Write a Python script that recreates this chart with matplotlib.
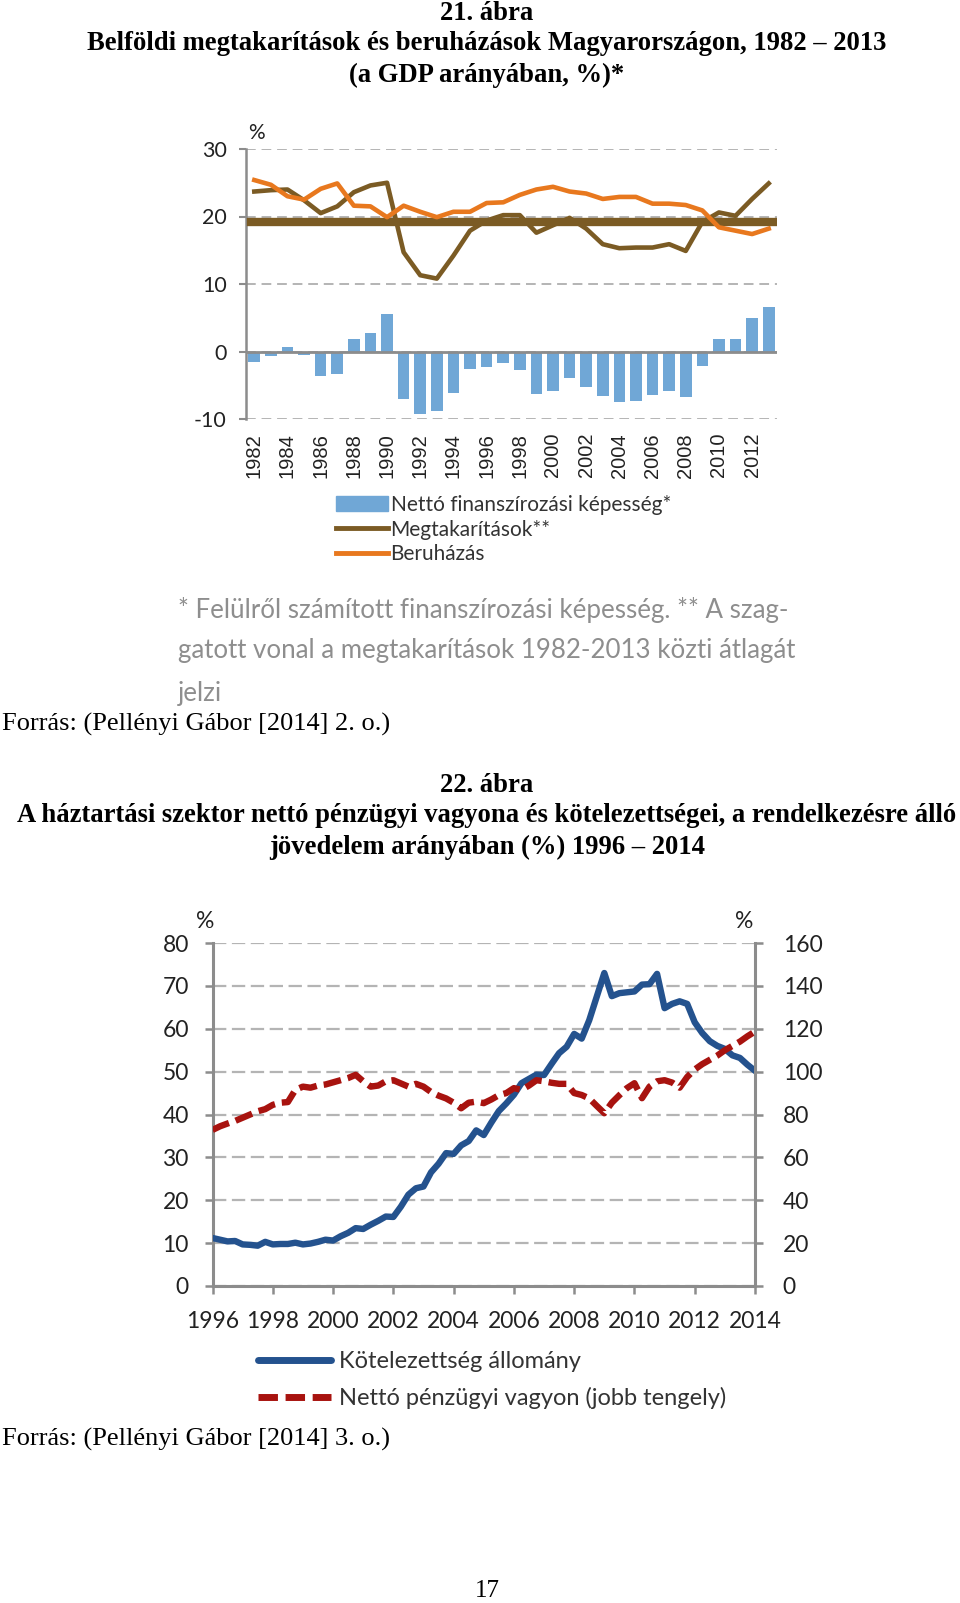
import numpy as np
import matplotlib.pyplot as plt
from matplotlib.patches import Patch
from matplotlib.lines import Line2D

plt.rcParams["axes.unicode_minus"] = False

# --- 21. ábra: yearly data, 1982-2013 (% of GDP)
years = np.arange(1982, 2014)
netto = [-1.5, -0.7, 0.7, -0.5, -3.6, -3.3, 1.8, 2.7, 5.5, -7.1,
         -9.2, -8.8, -6.2, -2.6, -2.3, -1.7, -2.8, -6.3, -5.8, -3.9,
         -5.2, -6.6, -7.5, -7.4, -6.4, -5.9, -6.7, -2.1, 1.8, 1.9,
         4.9, 6.6]
megtak = [23.7, 23.9, 24.0, 22.4, 20.5, 21.5, 23.6, 24.6, 25.0, 14.7,
          11.3, 10.8, 14.2, 17.9, 19.4, 20.2, 20.2, 17.6, 18.7, 19.8,
          18.2, 15.9, 15.3, 15.4, 15.4, 15.9, 14.9, 19.2, 20.6, 20.1,
          22.6, 24.9]
beruh = [25.4, 24.7, 23.0, 22.5, 24.1, 24.9, 21.6, 21.5, 19.9, 21.6,
         20.7, 19.9, 20.7, 20.7, 22.0, 22.1, 23.2, 24.0, 24.4, 23.7,
         23.4, 22.6, 22.9, 22.9, 21.9, 21.9, 21.7, 20.9, 18.4, 17.9,
         17.4, 18.2]
top_labels = ["Nettó finanszírozási képesség*", "Megtakarítások**", "Beruházás"]

# --- 22. ábra: quarterly data, 1996Q1 - 2014Q1 (% of disposable income)
kotelez = [11.2, 10.8, 10.4, 10.5, 9.7, 9.6, 9.4, 10.3, 9.7, 9.8,
           9.8, 10.1, 9.7, 9.9, 10.3, 10.8, 10.6, 11.6, 12.4, 13.5,
           13.3, 14.3, 15.2, 16.2, 16.1, 18.5, 21.3, 22.8, 23.2, 26.5,
           28.5, 31.0, 30.8, 32.8, 33.8, 36.3, 35.2, 38.1, 40.8, 42.6,
           44.6, 47.3, 48.3, 49.3, 49.2, 51.8, 54.3, 55.8, 58.8, 57.7,
           62.0, 67.5, 73.0, 67.6, 68.3, 68.5, 68.7, 70.3, 70.4, 72.8,
           64.8, 65.8, 66.4, 65.8, 61.5, 59.0, 57.1, 56.0, 55.3, 53.8,
           53.2, 51.6, 50.2]
vagyon = [72.8, 74.5, 75.8, 77.0, 78.5, 80.0, 81.5, 82.5, 84.5, 85.5,
          85.8, 91.5, 93.0, 92.5, 93.5, 94.0, 95.0, 96.0, 97.0, 98.5,
          95.5, 93.0, 93.5, 95.5, 96.0, 94.5, 93.0, 94.3, 93.0, 90.5,
          88.8, 87.5, 85.5, 82.9, 85.5, 86.0, 85.3, 87.0, 89.0, 90.0,
          92.3, 91.5, 93.5, 96.0, 95.5, 94.8, 94.3, 94.3, 90.0, 89.1,
          87.5, 84.0, 80.6, 85.5, 89.0, 92.3, 94.6, 87.6, 93.0, 95.5,
          96.0, 94.9, 92.5, 97.5, 101.0, 103.5, 105.5, 107.5, 110.0, 112.0,
          114.0, 116.5, 118.7]
quarters = 1996 + np.arange(len(kotelez)) / 4
bottom_labels = ["Kötelezettség állomány", "Nettó pénzügyi vagyon (jobb tengely)"]

W, H = 960, 1603
serif = "Liberation Serif"
sans = "Lato"
grid_c = "#b4b4b4"
axis_c = "#8c8c8c"
txt_c = "#222222"

fig = plt.figure(figsize=(W / 100, H / 100), dpi=100)


def fx(px):
    return px / W


def fy(py):
    return 1 - py / H


# titles and page text
for txt, y in [("21. ábra", 13),
               ("Belföldi megtakarítások és beruházások Magyarországon, 1982 – 2013", 44),
               ("(a GDP arányában, %)*", 75),
               ("22. ábra", 786),
               ("A háztartási szektor nettó pénzügyi vagyona és kötelezettségei, a rendelkezésre álló", 816),
               ("jövedelem arányában (%) 1996 – 2014", 847)]:
    fig.text(fx(487), fy(y), txt, ha="center", va="center", family=serif,
             weight="bold", size=19.2)
fig.text(fx(2), fy(724), "Forrás: (Pellényi Gábor [2014] 2. o.)", ha="left",
         va="center", family=serif, size=19)
fig.text(fx(2), fy(1439), "Forrás: (Pellényi Gábor [2014] 3. o.)", ha="left",
         va="center", family=serif, size=19)
fig.text(fx(487), fy(1591), "17", ha="center", va="center", family=serif, size=18)

note = ["* Felülről számított finanszírozási képesség. ** A szag-",
        "gatott vonal a megtakarítások 1982-2013 közti átlagát",
        "jelzi"]
for txt, y in zip(note, [610, 651, 694]):
    fig.text(fx(178), fy(y), txt, ha="left", va="center", family=sans,
             size=18.6, color="#8e8e8e")

# ---------------- top chart ----------------
ax1 = fig.add_axes([fx(246), fy(419), fx(531), 270 / H])
ax1.bar(years, netto, width=0.7, color="#70A7D6", zorder=2)
ax1.axhline(0, color=axis_c, lw=2, zorder=3)
ax1.axhline(np.mean(megtak), xmin=0.01, xmax=1.0, color="#7B5B24", lw=6, zorder=3)
ax1.plot(years, megtak, color="#7B5B24", lw=3.3, zorder=4)
ax1.plot(years, beruh, color="#E8781E", lw=3.3, zorder=5)
ax1.set_xlim(1981.5, 2013.5)
ax1.set_ylim(-10, 30)
ax1.set_yticks([-10, 0, 10, 20, 30])
ax1.yaxis.grid(True, linestyle=(0, (5, 3)), color=grid_c, lw=1.4, zorder=0)
ax1.set_axisbelow(True)
for s in ["top", "right", "bottom"]:
    ax1.spines[s].set_visible(False)
ax1.spines["left"].set_color(axis_c)
ax1.spines["left"].set_linewidth(1.8)
ax1.tick_params(axis="y", length=5, width=1.5, color=axis_c, labelsize=15.5,
                labelcolor=txt_c, pad=9)
for lab in ax1.get_yticklabels():
    lab.set_family(sans)
ax1.set_xticks(years[::2])
ax1.set_xticklabels([str(y) for y in years[::2]], rotation=90, family="Liberation Sans",
                    size=14.5, color=txt_c)
ax1.tick_params(axis="x", length=0, pad=10)
fig.text(fx(256), fy(133), "%", ha="center", va="center", family=sans, size=15,
         color=txt_c)

h_top = [Patch(color="#70A7D6"),
         Line2D([], [], color="#7B5B24", lw=3.5),
         Line2D([], [], color="#E8781E", lw=3.5)]
fig.legend(h_top, top_labels, loc="upper left", bbox_to_anchor=(fx(336), fy(495)),
           frameon=False, prop={"family": sans, "size": 15}, handlelength=2.5,
           handleheight=0.75, handletextpad=0.12, labelspacing=0.22,
           borderpad=0, borderaxespad=0, labelcolor="#333333")

# ---------------- bottom chart ----------------
ax2 = fig.add_axes([fx(212.5), fy(1286), 542.5 / W, 343 / H])
ax3 = ax2.twinx()
ax2.plot(quarters, kotelez, color="#24528E", lw=4.6, zorder=3)
ax3.plot(quarters, vagyon, color="#A8130F", lw=4.6, dashes=(2.8, 1.1), zorder=4)
ax2.set_xlim(1996, 2014)
ax2.set_ylim(0, 80)
ax3.set_ylim(0, 160)
ax2.set_yticks(np.arange(0, 81, 10))
ax3.set_yticks(np.arange(0, 161, 20))
ax2.set_xticks(np.arange(1996, 2015, 2))
ax2.yaxis.grid(True, linestyle=(0, (6, 2.5)), color=grid_c, lw=1.6)
ax2.set_axisbelow(True)
ax2.spines["top"].set_visible(False)
ax2.spines["right"].set_visible(False)
for s in ["top", "left", "bottom"]:
    ax3.spines[s].set_visible(False)
for sp in [ax2.spines["left"], ax2.spines["bottom"], ax3.spines["right"]]:
    sp.set_color(axis_c)
    sp.set_linewidth(2.2)
ax2.tick_params(axis="both", length=6, width=1.8, color=axis_c, labelsize=16.5,
                labelcolor=txt_c)
ax2.tick_params(axis="y", pad=11)
ax3.tick_params(axis="y", length=6, width=1.8, color=axis_c, labelsize=16.5,
                labelcolor=txt_c, pad=14)
ax2.tick_params(axis="x", pad=12)
for lab in ax2.get_xticklabels() + ax2.get_yticklabels() + ax3.get_yticklabels():
    lab.set_family(sans)
fig.text(fx(205), fy(922), "%", ha="center", va="center", family=sans, size=16.5,
         color=txt_c)
fig.text(fx(744), fy(922), "%", ha="center", va="center", family=sans, size=16.5,
         color=txt_c)

h_bot = [Line2D([], [], color="#24528E", lw=5, solid_capstyle="round"),
         Line2D([], [], color="#A8130F", lw=5, dashes=(2.8, 1.1))]
fig.legend(h_bot, bottom_labels, loc="upper left", bbox_to_anchor=(fx(258), fy(1351)),
           frameon=False, prop={"family": sans, "size": 17}, handlelength=3.1,
           handletextpad=0.35, labelspacing=0.65, borderpad=0, borderaxespad=0,
           labelcolor="#333333")

fig.savefig("out.png", dpi=100)
